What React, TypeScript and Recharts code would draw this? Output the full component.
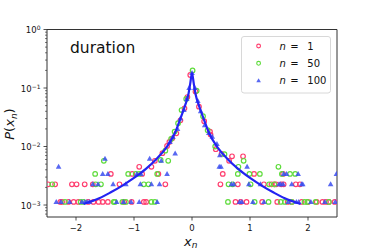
import { Legend, ReferenceArea, Scatter, ScatterChart, XAxis, YAxis } from 'recharts'

const FONT = '"DejaVu Sans", sans-serif'

// values, [x_n, P(x_n)]
const n1Points: [number, number][] = [
  [-2.48, 0.00226], [-2.36, 0.00226], [-2.27, 0.00113], [-2.24, 0.00113], [-2.13, 0.00113],
  [-2.07, 0.00226], [-2.04, 0.00113], [-1.99, 0.00226], [-1.96, 0.00113], [-1.85, 0.00226],
  [-1.79, 0.00113], [-1.71, 0.00226], [-1.7, 0.00113], [-1.61, 0.00113], [-1.54, 0.00113],
  [-1.45, 0.00113], [-1.4, 0.0034], [-1.25, 0.00226], [-1.17, 0.00113], [-1.04, 0.00113],
  [-1.03, 0.0034], [-0.91, 0.0045], [-0.86, 0.0034], [-0.83, 0.00113], [-0.79, 0.00113],
  [-0.7, 0.0045], [-0.64, 0.0057], [-0.58, 0.0034], [-0.51, 0.0077], [-0.46, 0.00226],
  [-0.43, 0.0102], [-0.39, 0.012], [-0.34, 0.0138], [-0.27, 0.0168], [-0.2, 0.028],
  [-0.13, 0.045], [-0.08, 0.07], [-0.03, 0.167], [0.06, 0.087], [0.12, 0.048],
  [0.21, 0.027], [0.31, 0.018], [0.32, 0.016], [0.41, 0.009], [0.49, 0.00226],
  [0.51, 0.0075], [0.53, 0.0034], [0.64, 0.0057], [0.69, 0.0068], [0.75, 0.00113],
  [0.79, 0.00226], [0.84, 0.00113], [0.88, 0.0068], [0.94, 0.00113], [1.07, 0.0034],
  [1.21, 0.00113], [1.24, 0.00226], [1.37, 0.00226], [1.42, 0.00226], [1.45, 0.00226],
  [1.47, 0.00113], [1.54, 0.00226], [1.57, 0.0034], [1.58, 0.00226], [1.65, 0.00113],
  [1.72, 0.00113], [1.79, 0.00226], [1.86, 0.00226], [1.89, 0.00113], [2.0, 0.00113],
  [2.15, 0.00113], [2.25, 0.00113], [2.31, 0.00113], [2.36, 0.00113], [2.46, 0.00113],
]

const n50Points: [number, number][] = [
  [-2.41, 0.00226], [-2.19, 0.00113], [-1.92, 0.00113], [-1.87, 0.00113], [-1.67, 0.0034],
  [-1.66, 0.00226], [-1.57, 0.00226], [-1.52, 0.0057], [-1.35, 0.00113], [-1.33, 0.00113],
  [-1.2, 0.00113], [-1.14, 0.00113], [-1.1, 0.0034], [-0.97, 0.0034], [-0.91, 0.0034],
  [-0.83, 0.00226], [-0.75, 0.00226], [-0.7, 0.00113], [-0.64, 0.00113], [-0.6, 0.0034],
  [-0.54, 0.0059], [-0.46, 0.0085], [-0.41, 0.0057], [-0.36, 0.0135], [-0.3, 0.018],
  [-0.24, 0.025], [-0.18, 0.042], [-0.1, 0.065], [0.01, 0.2], [0.08, 0.09],
  [0.19, 0.033], [0.27, 0.019], [0.4, 0.01], [0.56, 0.0074], [0.62, 0.00113],
  [0.63, 0.00226], [0.7, 0.00226], [0.79, 0.0034], [0.8, 0.0045], [0.89, 0.0057],
  [0.99, 0.0034], [1.01, 0.00226], [1.08, 0.00113], [1.17, 0.0034], [1.32, 0.00113],
  [1.33, 0.00226], [1.42, 0.00226], [1.49, 0.0045], [1.53, 0.00113], [1.55, 0.0034],
  [1.6, 0.00113], [1.69, 0.0034], [1.72, 0.00113], [1.78, 0.0034], [1.94, 0.00113],
  [1.99, 0.00113], [2.13, 0.00113], [2.36, 0.00113],
]

const n100Points: [number, number][] = [
  [-2.34, 0.00113], [-2.3, 0.0045], [-2.26, 0.00113], [-2.11, 0.00113], [-1.9, 0.00113],
  [-1.85, 0.00113], [-1.81, 0.00113], [-1.77, 0.00113], [-1.71, 0.00226], [-1.62, 0.00226],
  [-1.54, 0.0034], [-1.5, 0.0062], [-1.45, 0.0034], [-1.36, 0.00226], [-1.3, 0.00113],
  [-1.18, 0.00113], [-1.14, 0.00226], [-1.05, 0.00113], [-0.95, 0.0034], [-0.91, 0.00113],
  [-0.89, 0.00226], [-0.88, 0.0034], [-0.73, 0.0062], [-0.7, 0.00226], [-0.6, 0.00113],
  [-0.56, 0.00226], [-0.53, 0.0057], [-0.43, 0.0034], [-0.38, 0.012], [-0.33, 0.0145],
  [-0.29, 0.0076], [-0.25, 0.02], [-0.2, 0.03], [-0.14, 0.042], [-0.09, 0.065],
  [-0.05, 0.1], [0.0, 0.18], [0.05, 0.1], [0.1, 0.06], [0.15, 0.04],
  [0.22, 0.023], [0.29, 0.017], [0.35, 0.0147], [0.43, 0.011], [0.47, 0.0045],
  [0.48, 0.0071], [0.5, 0.0045], [0.68, 0.00226], [0.72, 0.00226], [0.82, 0.00113],
  [0.86, 0.00113], [0.95, 0.0045], [0.98, 0.00226], [1.05, 0.00113], [1.18, 0.00226],
  [1.24, 0.00113], [1.5, 0.00226], [1.53, 0.00226], [1.57, 0.00226], [1.58, 0.0034],
  [1.63, 0.0034], [1.66, 0.00113], [1.72, 0.00226], [1.8, 0.00113], [1.83, 0.0034],
  [1.84, 0.00113], [1.89, 0.00226], [1.91, 0.00226], [2.05, 0.00113], [2.29, 0.00113],
  [2.39, 0.00226], [2.47, 0.00113], [2.49, 0.0034],
]

// fitted curve
const fitX = [-1.87, -1.6, -1.4, -1.2, -1.0, -0.8, -0.6, -0.45, -0.3, -0.2, -0.12, -0.06, -0.03, 0,
  0.03, 0.06, 0.12, 0.2, 0.3, 0.45, 0.6, 0.8, 1.0, 1.2, 1.4, 1.6, 1.87]
const fitY = [0.00104, 0.0013, 0.00165, 0.00215, 0.0029, 0.0041, 0.0063, 0.0094, 0.0165, 0.03, 0.05, 0.08, 0.12, 0.18,
  0.12, 0.08, 0.05, 0.03, 0.0165, 0.0094, 0.0063, 0.0041, 0.0029, 0.00215, 0.00165, 0.0013, 0.00104]

const xTicks = [-2, -1, 0, 1, 2]
const yTicks = [
  0.0007, 0.0008, 0.0009,
  0.001, 0.002, 0.003, 0.004, 0.005, 0.006, 0.007, 0.008, 0.009,
  0.01, 0.02, 0.03, 0.04, 0.05, 0.06, 0.07, 0.08, 0.09,
  0.1, 0.2, 0.3, 0.4, 0.5, 0.6, 0.7, 0.8, 0.9,
  1,
]

const legendItems = [
  { label: '1', color: '#ff3d6e', kind: 'ring' },
  { label: '50', color: '#5fdc3c', kind: 'ring' },
  { label: '100', color: '#3b4ef0', kind: 'tri' },
]

const toRows = (pts: [number, number][]) => pts.map(([x, y]) => ({ x, y }))
const fitRows = fitX.map((x, i) => ({ x, y: fitY[i] }))

const Ring = (color: string) => (p: any) => (
  <circle cx={p.cx} cy={p.cy} r={2.3} fill="none" stroke={color} strokeWidth={1.2} />
)

const Tri = (p: any) => (
  <polygon
    points={`${p.cx},${p.cy - 3} ${p.cx - 2.8},${p.cy + 2} ${p.cx + 2.8},${p.cy + 2}`}
    fill="#3b4ef0"
    fillOpacity={0.85}
  />
)

const XTick = ({ x, y, payload }: any) => {
  const v = payload.value
  const label = v < 0 ? `\u2212${Math.abs(v)}` : `${v}`
  return (
    <g>
      <line x1={x} x2={x} y1={y} y2={y + 3.5} stroke="#222" strokeWidth={0.8} />
      <text x={x} y={y + 14} textAnchor="middle" fontSize={8.5} fontFamily={FONT} fill="#111">
        {label}
      </text>
    </g>
  )
}

const YTick = ({ x, y, payload }: any) => {
  const e = Math.log10(payload.value)
  const major = Math.abs(e - Math.round(e)) < 1e-6
  if (!major) {
    return <line x1={x - 2} x2={x} y1={y} y2={y} stroke="#222" strokeWidth={0.6} />
  }
  const exp = Math.round(e)
  return (
    <g>
      <line x1={x - 3.5} x2={x} y1={y} y2={y} stroke="#222" strokeWidth={0.8} />
      <text x={x - 6.5} y={y + 3.8} textAnchor="end" fontSize={8.5} fontFamily={FONT} fill="#111">
        10
        <tspan dy={-3.2} fontSize={6}>
          {exp < 0 ? `\u2212${-exp}` : `${exp}`}
        </tspan>
      </text>
    </g>
  )
}

const LegendBox = () => (
  <svg width={90} height={58} style={{ display: 'block' }}>
    <rect x={0.5} y={0.5} width={89} height={56.5} rx={2.5} fill="#fff" fillOpacity={0.8} stroke="#d8d8d8" />
    {legendItems.map((it, i) => {
      const cy = 10 + i * 17.3
      return (
        <g key={it.label}>
          {it.kind === 'ring' ? (
            <circle cx={17.6} cy={cy} r={1.9} fill="none" stroke={it.color} strokeWidth={1.1} />
          ) : (
            <polygon points={`17.6,${cy - 2.4} ${15.3},${cy + 1.6} ${19.9},${cy + 1.6}`} fill={it.color} fillOpacity={0.85} />
          )}
          <text y={cy + 3.5} fontSize={10} fontFamily={FONT} fill="#111">
            <tspan x={38.6} fontStyle="italic">n</tspan>
            <tspan x={49.3}>=</tspan>
            <tspan x={66.3}>{it.label}</tspan>
          </text>
        </g>
      )
    })}
  </svg>
)

export default function App() {
  return (
    <div style={{ position: 'fixed', left: 0, top: 0, width: 374, height: 249, background: '#fff' }}>
      <ScatterChart width={374} height={249} margin={{ top: 29.5, right: 37, bottom: 0, left: 0 }}>
        <XAxis
          type="number"
          dataKey="x"
          domain={[-2.5, 2.5]}
          ticks={xTicks}
          allowDataOverflow
          height={32}
          axisLine={false}
          tickLine={false}
          tickSize={0}
          tickMargin={0}
          interval={0}
          tick={<XTick />}
        />
        <YAxis
          type="number"
          dataKey="y"
          scale="log"
          domain={[0.000624, 1]}
          ticks={yTicks}
          allowDataOverflow
          width={47}
          axisLine={false}
          tickLine={false}
          tickSize={0}
          tickMargin={0}
          interval={0}
          tick={<YTick />}
        />
        <Scatter data={toRows(n1Points)} shape={Ring('#ff3d6e')} isAnimationActive={false} />
        <Scatter data={toRows(n50Points)} shape={Ring('#5fdc3c')} isAnimationActive={false} />
        <Scatter data={toRows(n100Points)} shape={Tri} isAnimationActive={false} />
        <Scatter
          data={fitRows}
          line={{ stroke: '#2323f2', strokeWidth: 2.2 }}
          lineJointType="monotoneX"
          shape={() => null}
          isAnimationActive={false}
        />
        <ReferenceArea x1={-2.5} x2={2.5} y1={0.000624} y2={1} fill="none" stroke="#333" strokeWidth={1} />
        <Legend
          layout="horizontal"
          align="center"
          verticalAlign="middle"
          wrapperStyle={{ position: 'absolute', left: 240.5, top: 35.5, width: 90, height: 58 }}
          content={() => <LegendBox />}
        />
        <text x={70} y={53.3} fontSize={15.5} fontFamily={FONT} fill="#111">
          duration
        </text>
        <text x={184} y={245.5} fontSize={13} fontFamily={FONT} fontStyle="italic" fill="#111">
          x<tspan dy={2.5} fontSize={9}>n</tspan>
        </text>
        <text
          x={14}
          y={124}
          transform="rotate(-90 14 124)"
          textAnchor="middle"
          fontSize={13}
          fontFamily={FONT}
          fill="#111"
        >
          <tspan fontStyle="italic">P</tspan>(<tspan fontStyle="italic">x</tspan>
          <tspan dy={2.5} fontSize={9} fontStyle="italic">n</tspan>
          <tspan dy={-2.5}>)</tspan>
        </text>
      </ScatterChart>
    </div>
  )
}
